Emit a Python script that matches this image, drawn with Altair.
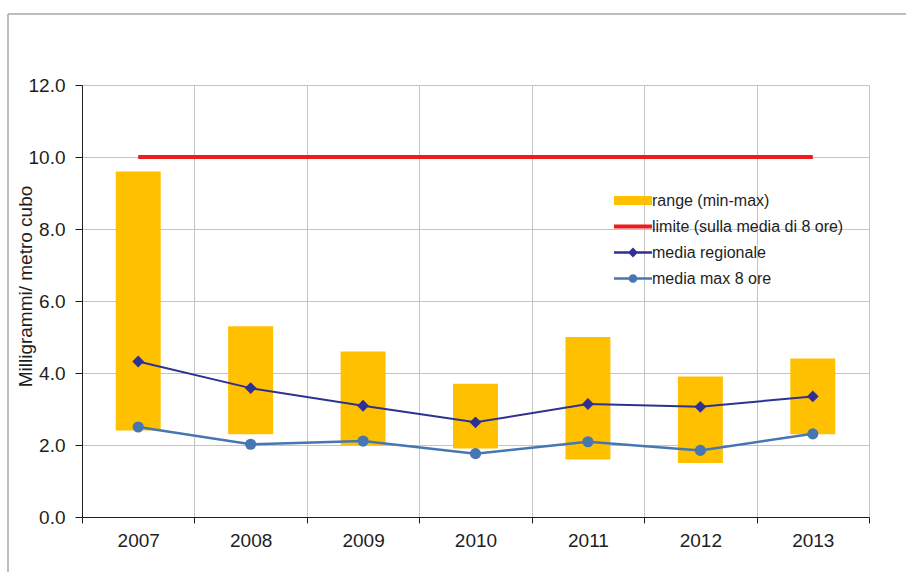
import altair as alt
import pandas as pd

# ---- data ----
years = ["2007", "2008", "2009", "2010", "2011", "2012", "2013"]
range_min = [2.4, 2.3, 2.0, 1.9, 1.6, 1.5, 2.3]
range_max = [9.6, 5.3, 4.6, 3.7, 5.0, 3.9, 4.4]
media_regionale = [4.32, 3.58, 3.09, 2.63, 3.14, 3.06, 3.35]
media_max_8_ore = [2.50, 2.02, 2.11, 1.76, 2.09, 1.85, 2.31]
limite = [10.0, 10.0, 10.0, 10.0, 10.0, 10.0, 10.0]
y_ticks = [0, 2, 4, 6, 8, 10, 12]

series_names = ["range (min-max)", "limite (sulla media di 8 ore)",
                "media regionale", "media max 8 ore"]
series_colors = ["#FFC000", "#EE1C1C", "#2E3192", "#4677B3"]
legend_paths = [
    "M-1,-0.24H1V0.24H-1Z",
    "M-1,-0.1H1V0.1H-1Z",
    "M-1,-0.06H1V0.06H-1Z M0,-0.26L0.26,0L0,0.26L-0.26,0Z",
    "M-1,-0.06H1V0.06H-1Z M-0.23,0A0.23,0.23 0 1,1 0.23,0A0.23,0.23 0 1,1 -0.23,0Z",
]

df = pd.DataFrame({
    "anno": years, "min": range_min, "max": range_max,
    "regionale": media_regionale, "max8": media_max_8_ore, "limite": limite,
})
leg_df = pd.DataFrame({"serie": series_names})

FONT = "Liberation Sans"
W, H = 787, 432
TXT = "#1e1e1e"
GRID = "#c4c4c4"

x_axis = alt.Axis(labelAngle=0, tickBand="extent", grid=True, gridColor=GRID,
                  tickSize=6, labelPadding=8, labelFontSize=19, labelFont=FONT,
                  labelColor=TXT, domainColor=TXT, tickColor=TXT, title=None)
y_axis = alt.Axis(values=y_ticks, format=".1f", tickSize=7, labelPadding=10,
                  labelFontSize=19, labelFont=FONT, labelColor=TXT,
                  domainColor=TXT, tickColor=TXT, gridColor=GRID,
                  titleFontSize=19, titleFont=FONT, titleFontWeight="normal",
                  titleColor=TXT, titleX=-57, titleY=201, titleAngle=-90,
                  titleAlign="center", titleBaseline="middle")


def X():
    return alt.X("anno:N", scale=alt.Scale(paddingInner=0, paddingOuter=0),
                 axis=x_axis, title=None)


def Y(field):
    return alt.Y(field, scale=alt.Scale(domain=[0, 12], nice=False),
                 axis=y_axis, title="Milligrammi/ metro cubo")


base = alt.Chart(df)

bars = base.mark_bar(color=series_colors[0], width=alt.RelativeBandSize(0.4)).encode(
    x=X(), y=Y("min:Q"), y2="max:Q")

lim = base.mark_line(color=series_colors[1], strokeWidth=4, strokeCap="butt").encode(
    x=X(), y=Y("limite:Q"))

reg = base.mark_line(color=series_colors[2], strokeWidth=2,
                     point=alt.OverlayMarkDef(shape="diamond", size=140, filled=True,
                                              color=series_colors[2])).encode(
    x=X(), y=Y("regionale:Q"))

mx = base.mark_line(color=series_colors[3], strokeWidth=2.5,
                    point=alt.OverlayMarkDef(shape="circle", size=125, filled=True,
                                             color=series_colors[3])).encode(
    x=X(), y=Y("max8:Q"))

leg = alt.Legend(title=None, orient="none", legendX=532, legendY=102.5, padding=0,
                 symbolSize=1444, symbolOpacity=1, symbolStrokeWidth=0,
                 labelFontSize=16, labelFont=FONT, labelColor=TXT, labelOffset=0,
                 clipHeight=26, rowPadding=0, labelLimit=400)

legend_layer = alt.Chart(leg_df).mark_point(filled=True, opacity=0).encode(
    color=alt.Color("serie:N", scale=alt.Scale(domain=series_names, range=series_colors),
                    legend=leg),
    shape=alt.Shape("serie:N", scale=alt.Scale(domain=series_names, range=legend_paths),
                    legend=leg),
)

one = alt.Data(values=[{"k": 1}])
frame_left = alt.Chart(one).mark_rule(color="#a8a8a8", strokeWidth=1.5).encode(
    x=alt.value(-74), y=alt.value(-71), y2=alt.value(H + 60))
frame_top = alt.Chart(one).mark_rule(color="#a8a8a8", strokeWidth=1.5).encode(
    x=alt.value(-74), x2=alt.value(W + 40), y=alt.value(-71))

chart = alt.layer(frame_left, frame_top, bars, lim, reg, mx, legend_layer).properties(
    width=W, height=H,
    padding={"left": 82, "top": 85, "right": 906 - 82 - W, "bottom": 572 - 85 - H},
    autosize=alt.AutoSizeParams(type="none"),
).configure_view(stroke="#9a9a9a", strokeWidth=1.5).configure(background="white")

chart.save("out.html", embed_options={"renderer": "svg", "actions": False})
